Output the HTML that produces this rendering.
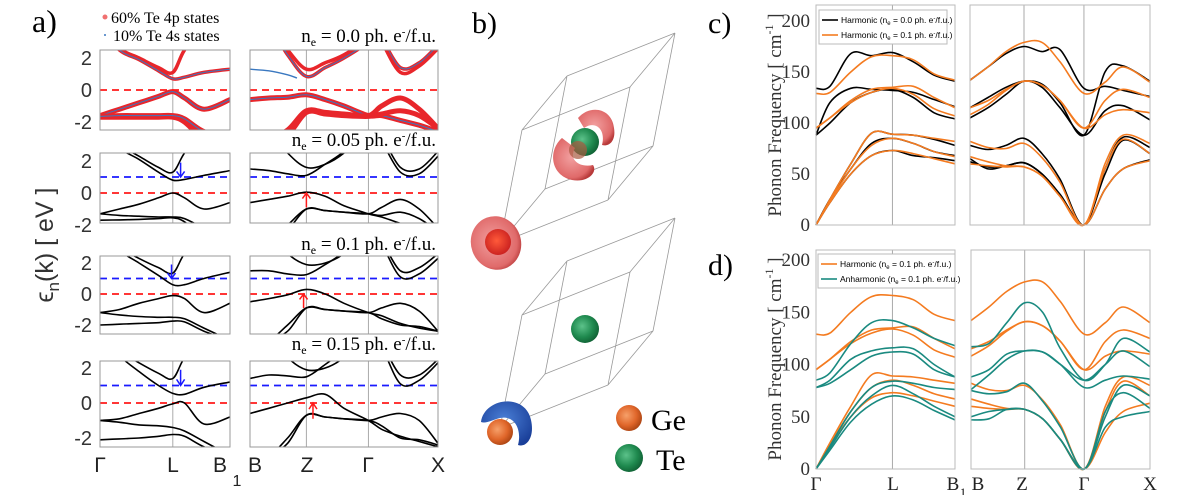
<!DOCTYPE html>
<html><head><meta charset="utf-8"><style>
html,body{margin:0;padding:0;background:#fff;}
svg{display:block;}
.serif{font-family:"Liberation Serif",serif;}
.sans{font-family:"Liberation Sans",sans-serif;}
</style></head><body>
<svg id="fig" width="1196" height="495" viewBox="0 0 1196 495" xmlns="http://www.w3.org/2000/svg">
<defs>
<radialGradient id="gGreen" cx="40%" cy="40%" r="65%"><stop offset="0" stop-color="#5cc28a"/><stop offset="0.6" stop-color="#1f8a4f"/><stop offset="1" stop-color="#0f5f33"/></radialGradient>
<radialGradient id="gOrange" cx="40%" cy="40%" r="65%"><stop offset="0" stop-color="#f6a06a"/><stop offset="0.6" stop-color="#e0662a"/><stop offset="1" stop-color="#a94312"/></radialGradient>
<radialGradient id="gRedOut" cx="45%" cy="45%" r="60%"><stop offset="0" stop-color="#f2a0a0"/><stop offset="0.8" stop-color="#e06a6a"/><stop offset="1" stop-color="#b83a3a"/></radialGradient>
<radialGradient id="gRedIn" cx="45%" cy="45%" r="60%"><stop offset="0" stop-color="#ff5a3a"/><stop offset="1" stop-color="#c81e1e"/></radialGradient>
<radialGradient id="gBlue" cx="45%" cy="40%" r="65%"><stop offset="0" stop-color="#4a7fd6"/><stop offset="1" stop-color="#1a3f99"/></radialGradient>
</defs>
<g id="panelA"></g>
<g id="panelB"></g>
<g id="panelC"></g>
<g id="panelD"></g>
</svg>
<script>
// ---------- Panel a data ----------
const eKLeft = [0,0.15,0.3,0.45,0.56,0.65,0.8,1];
const eKRight = [0,0.1,0.2,0.3,0.4,0.5,0.63,0.7,0.8,0.9,1];
const eTicks = [2,0,-2];
const eLabels = ["n_e = 0.0 ph. e-/f.u.","n_e = 0.05 ph. e-/f.u.","n_e = 0.1 ph. e-/f.u.","n_e = 0.15 ph. e-/f.u."];
const row1Left = [[4,2.6,2.0,1.4,1.1,2.5,4,4],[4,2.5,1.9,1.2,0.7,0.8,1.1,1.3],[-1.6,-1.2,-0.8,-0.4,-0.1,-0.5,-1.2,-0.6],[-1.7,-1.7,-1.7,-1.7,-1.7,-2.0,-3,-3],[-1.65,-1.6,-1.6,-1.6,-1.6,-1.8,-2.6,-3]];
const row1Right = [[4,4,2.5,1.3,1.7,2.2,3.2,4,4,4,4],[4,4,2.2,0.85,1.4,2.0,3.0,4,4,4,4],[4,4,4,4,4,4,4,3.2,1.4,1.7,2.8],[4,4,4,4,4,4,4,3.0,1.1,1.5,2.6],[-0.6,-0.5,-0.45,-0.3,-0.6,-1.0,-1.6,-1.6,-1.9,-2.2,-2.6],[-3,-3,-2.5,-1.3,-1.4,-1.5,-1.6,-1.0,-0.5,-1.2,-2.4],[-3,-3,-2.8,-1.4,-1.5,-1.6,-1.65,-1.5,-1.3,-1.6,-2.4]];
const row1BlueK = [0,0.1,0.2,0.25];
const row1BlueV = [1.3,1.2,0.95,0.75];
const row2Left = [[4,3,2.3,1.6,1.3,2.5,4,4],[4,2.8,2.1,1.3,0.8,0.85,1.1,1.4],[-1.3,-1.0,-0.7,-0.3,0,-0.3,-1.0,-0.6],[-1.7,-1.68,-1.65,-1.6,-1.55,-1.8,-2.8,-3],[-1.3,-1.4,-1.45,-1.5,-1.5,-1.6,-2.2,-3]];
const row2Right = [[1.5,1.4,1.2,1.1,1.8,2.6,4,4,4,4,4],[4,4,2.5,1.6,1.8,2.5,4,4,4,4,4],[4,4,4,4,4,4,4,3.5,1.6,1.5,2.6],[4,4,4,4,4,4,4,3.2,1.3,1.2,2.3],[-0.6,-0.4,-0.2,0.05,-0.2,-0.8,-1.3,-1.5,-1.9,-2.2,-2.5],[-3,-3,-2.0,-1.0,-1.1,-1.2,-1.3,-0.9,-0.4,-1.0,-2.2],[-3,-3,-2.3,-1.0,-1.1,-1.2,-1.3,-1.4,-1.2,-1.6,-2.4]];
const row3Left = [[4,3,2.3,1.7,1.35,2.6,4,4],[4,2.8,2.0,1.2,0.6,0.6,1.0,1.4],[-1.2,-1.0,-0.6,-0.3,-0.1,-0.3,-1.2,-0.6],[-2.0,-1.95,-1.9,-1.85,-1.75,-1.8,-2.4,-3],[-1.2,-1.35,-1.45,-1.5,-1.5,-1.6,-2.2,-3]];
const row3Right = [[1.5,1.5,1.3,1.25,1.9,2.7,4,4,4,4,4],[4,4,2.6,1.9,2.0,2.6,4,4,4,4,4],[4,4,4,4,4,4,4,3.4,1.5,1.7,2.6],[4,4,4,4,4,4,4,3.2,1.1,1.3,2.3],[-0.5,-0.3,-0.05,0.3,0,-0.6,-1.2,-1.4,-1.9,-2.2,-2.4],[-3,-3,-2.0,-0.9,-1.0,-1.1,-1.2,-0.9,-0.6,-1.1,-2.4],[-3,-3,-2.4,-0.9,-1.0,-1.1,-1.2,-1.6,-2.0,-2.1,-2.4]];
const row4Left = [[4,3,2.3,1.7,1.4,2.6,4,4],[4,2.7,1.8,1.0,0.55,0.5,0.9,1.2],[-1.0,-0.9,-0.6,-0.3,-0.05,0.0,-1.2,-0.8],[-2.1,-2.05,-2.0,-1.9,-1.8,-1.9,-2.5,-3],[-1.0,-1.1,-1.25,-1.3,-1.4,-1.6,-2.2,-3]];
const row4Right = [[1.4,1.6,1.55,1.5,2.2,3,4,4,4,4,4],[4,4,2.6,1.9,2.0,2.6,4,4,4,4,4],[4,4,4,4,4,4,4,3.4,1.6,1.6,2.5],[4,4,4,4,4,4,4,3.2,1.1,1.3,2.3],[-0.6,-0.3,0,0.3,0.5,-0.3,-1.0,-1.5,-1.9,-2.2,-2.5],[-3,-3,-2.0,-0.7,-0.8,-0.9,-1.0,-0.8,-0.6,-1.0,-2.3],[-3,-3,-2.3,-0.7,-0.8,-0.9,-1.0,-1.3,-2.0,-2.1,-2.4]];
const fermiLevels = [0,1];
// ---------- Phonon data ----------
const pKLeft = [0,0.1,0.25,0.4,0.55,0.7,0.85,1];
const pKRight = [0,0.1,0.2,0.3,0.4,0.5,0.633,0.75,0.85,1];
const pTicks = [0,50,100,150,200];
const harm0Left = [[134,136,168,166,169,160,147,141],[88,120,134,133,132,130,123,116],[88,100,120,130,133,125,110,104],[0,25,60,90,89,88,84,78],[0,25,55,80,85,80,72,68],[0,22,50,68,73,68,66,63]];
const harm1Left = [[129,130,150,165,166,162,148,142],[95,105,122,133,135,136,125,115],[95,105,120,130,134,128,114,107],[0,25,60,90,89,88,85,82],[0,23,55,78,85,80,72,67],[0,22,50,68,73,70,65,60]];
const harm0Right = [[142,155,168,175,170,172,134,136,132,126],[115,125,135,141,138,120,88,150,156,141],[105,115,128,141,135,115,88,112,117,103],[78,74,78,85,70,45,0,55,86,76],[65,55,58,61,50,30,0,50,83,70],[62,57,58,61,50,30,0,35,55,64]];
const harm1Right = [[142,155,170,179,179,160,129,140,155,140],[108,118,132,141,137,122,95,122,133,125],[115,122,133,141,137,122,95,108,113,110],[82,76,75,80,66,42,0,60,88,80],[67,62,58,57,48,28,0,55,84,70],[60,58,57,57,48,28,0,35,55,63]];
const anhLeft = [[85,92,120,140,142,135,125,118],[78,85,105,113,116,115,100,88],[78,82,95,108,112,110,95,88],[0,22,55,78,84,82,78,76],[0,20,50,70,80,72,60,50],[0,18,45,62,70,66,56,47]];
const anhRight = [[117,120,140,159,150,115,85,100,125,112],[88,95,110,113,112,100,78,85,89,86],[76,90,105,113,112,100,85,100,113,98],[75,72,74,82,65,40,0,55,73,58],[50,55,57,57,48,28,0,50,80,70],[47,48,57,57,48,28,0,40,50,55]];

const NS='http://www.w3.org/2000/svg';
function mk(tag,attrs,parent){const e=document.createElementNS(NS,tag);for(const k in attrs)e.setAttribute(k,attrs[k]);parent.appendChild(e);return e;}
function smooth(p){let d='M'+p[0][0].toFixed(1)+','+p[0][1].toFixed(1);for(let i=0;i<p.length-1;i++){const p0=p[i-1]||p[i],p1=p[i],p2=p[i+1],p3=p[i+2]||p2;const c1=[p1[0]+(p2[0]-p0[0])/6,p1[1]+(p2[1]-p0[1])/6],c2=[p2[0]-(p3[0]-p1[0])/6,p2[1]-(p3[1]-p1[1])/6];d+='C'+c1[0].toFixed(1)+','+c1[1].toFixed(1)+' '+c2[0].toFixed(1)+','+c2[1].toFixed(1)+' '+p2[0].toFixed(1)+','+p2[1].toFixed(1);}return d;}
let clipId=0;
function clipFor(x0,y0,x1,y1){const defs=document.querySelector('defs');const id='c'+(clipId++);const cp=mk('clipPath',{id:id},defs);mk('rect',{x:x0,y:y0,width:x1-x0,height:y1-y0},cp);return 'url(#'+id+')';}
function txt(parent,x,y,s,attrs){const t=mk('text',Object.assign({x:x,y:y},attrs||{}),parent);t.textContent=s;return t;}

// ---------- Panel a ----------
const A=document.getElementById('panelA');
const aLeft=[100,230], aRight=[250,438];
const rows=[{t:50,b:130,z:90,u:16,L:row1Left,R:row1Right},{t:153,b:223,z:193,u:16,L:row2Left,R:row2Right},{t:256,b:334,z:294,u:15.5,L:row3Left,R:row3Right},{t:361,b:447,z:403,u:17.5,L:row4Left,R:row4Right}];
const arrowsBlueK=[0.62,0.55,0.62], arrowsRedK=[0.3,0.285,0.335];
const labelY=[42,146,250,350];
rows.forEach((r,ri)=>{
  const g=mk('g',{},A);
  
  
  const lt=txt(g,436,labelY[ri],'',{'text-anchor':'end','font-size':'19','class':'serif'});
  lt.innerHTML='n<tspan font-size="12" dy="4">e</tspan><tspan dy="-4"> = '+eLabels[ri].split('= ')[1].replace(' e-/',' e</tspan><tspan font-size="11" dy="-7">-</tspan><tspan dy="7">/')+'</tspan>';
  
  
  [[aLeft,r.L,eKLeft,[0.56]],[aRight,r.R,eKRight,[0.3,0.63]]].forEach(([xr,bands,ks,verts],si)=>{
    const sx=k=>xr[0]+k*(xr[1]-xr[0]), sy=v=>r.z-v*r.u;
    const cp=clipFor(xr[0],r.t,xr[1],r.b);
    verts.forEach(k=>{const l=mk('line',{x1:sx(k),x2:sx(k),y1:r.t,y2:r.b,stroke:'#aaa','stroke-width':1},g);});
    const cg=mk('g',{'clip-path':cp},g);
    if(ri>0){fermiLevels.forEach(f=>{const l=mk('line',{x1:xr[0],x2:xr[1],y1:sy(f),y2:sy(f),stroke:f===0?'#ff1a1a':'#1a1aff','stroke-width':1.8,'stroke-dasharray':'7,5'},cg);});}
    bands.forEach((b,bi)=>{
      const d=smooth(b.map((v,i)=>[sx(ks[i]),sy(v)]));
      if(ri===0){
        const p=mk('path',{d:d,fill:'none',stroke:'#e8262b','stroke-width':(bi>=2&&si===0)||(bi>=4)?5:3.5,'stroke-linecap':'round'},cg);
        
        
        if(bi===1||bi===2||bi===4){
        const q=mk('path',{d:d,fill:'none',stroke:'#3a78c0','stroke-width':1},cg);
        
        }
      } else {
        const p=mk('path',{d:d,fill:'none',stroke:'#000','stroke-width':1.6},cg);
        
        
      }
    });
    if(ri===0&&si===1){const d=smooth(row1BlueV.map((v,i)=>[sx(row1BlueK[i]),sy(v)]));const q=mk('path',{d:d,fill:'none',stroke:'#3a78c0','stroke-width':1.4},cg);}
    if(ri===0){const f=mk('line',{x1:xr[0],x2:xr[1],y1:sy(0),y2:sy(0),stroke:'#ff1a1a','stroke-width':1.8,'stroke-dasharray':'7,5'},cg);}
    if(ri>0&&si===0){const x=sx(arrowsBlueK[ri-1]);const a=mk('path',{d:`M${x},${sy(1.9)}L${x},${sy(1)}M${x-4},${sy(1.35)}L${x},${sy(1)}L${x+4},${sy(1.35)}`,stroke:'#1a1aff','stroke-width':1.5,fill:'none'},g);}
    if(ri>0&&si===1){const x=sx(arrowsRedK[ri-1]);const a=mk('path',{d:`M${x},${sy(-0.9)}L${x},${sy(0)}M${x-4},${sy(-0.35)}L${x},${sy(0)}L${x+4},${sy(-0.35)}`,stroke:'#ff1a1a','stroke-width':1.5,fill:'none'},g);}
    const box=mk('rect',{x:xr[0],y:r.t,width:xr[1]-xr[0],height:r.b-r.t,fill:'none',stroke:'#999','stroke-width':1},g);
    
    
    if(si===0){eTicks.forEach(t=>{if(sy(t)<r.t-2||sy(t)>r.b+8)return;const tl=txt(g,92,sy(t)+7,t===-2?'-2':String(t),{'text-anchor':'end','font-size':'20','fill':'#333','class':'sans'});});}
  });
});
const aLabels=[['Γ',100],['L',173],['B',220],['B',255],['Z',307],['Γ',368],['X',438]];
aLabels.forEach(([s,x])=>{const t=txt(A,x,472,s,{'text-anchor':'middle','font-size':'21','fill':'#222','class':'sans'});});
txt(A,237,486,'1',{'font-size':'16','fill':'#222','class':'sans','text-anchor':'middle'});
const ylab=txt(A,0,0,'',{'transform':'translate(53,245) rotate(-90)','text-anchor':'middle','font-size':'25','fill':'#333','class':'sans'});
ylab.innerHTML='ϵ<tspan font-size="17" dy="6">n</tspan><tspan dy="-6">(k) [ eV ]</tspan>';


const aL=txt(A,32,32,'a)',{'font-size':'32','class':'serif'});
mk('circle',{cx:105,cy:17,r:2.5,fill:'#f07070'},A);
txt(A,111,23,'60% Te 4p states',{'font-size':'16','class':'serif'});
mk('circle',{cx:105,cy:35,r:1,fill:'#3a78c0'},A);
txt(A,113,41,'10% Te 4s states',{'font-size':'16','class':'serif'});

// ---------- Panel b ----------
const B=document.getElementById('panelB');
txt(B,472,33,'b)',{'font-size':'30','class':'serif'});
function cell(ox,oy){const a=[22,-113],b=[108,-43],c=[45,-54];const P=(i,j,k)=>[ox+i*a[0]+j*b[0]+k*c[0],oy+i*a[1]+j*b[1]+k*c[1]];let d='';
 const V=[];for(let i=0;i<2;i++)for(let j=0;j<2;j++)for(let k=0;k<2;k++)V.push([i,j,k]);
 V.forEach(v=>{[[1,0,0],[0,1,0],[0,0,1]].forEach(e=>{const w=[v[0]+e[0],v[1]+e[1],v[2]+e[2]];if(w.some(x=>x>1))return;const p=P(...v),q=P(...w);d+=`M${p[0]},${p[1]}L${q[0]},${q[1]}`;});});
 const l=mk('path',{d:d,stroke:'#999','stroke-width':0.8,fill:'none'},B);}
cell(500,243);cell(500,428);
mk('ellipse',{cx:496,cy:243,rx:25,ry:27,fill:'url(#gRedOut)',transform:'rotate(-20 496 243)'},B);
mk('circle',{cx:498,cy:242,r:13,fill:'url(#gRedIn)'},B);
mk('circle',{cx:585,cy:142,r:14,fill:'url(#gGreen)'},B);
mk('path',{d:'M578,118 C590,104 612,108 614,128 C616,140 610,147 602,145 C606,130 596,120 584,128 Z',fill:'url(#gRedOut)'},B);
mk('path',{d:'M562,138 C548,150 550,175 572,180 C588,183 598,172 593,165 C580,168 568,160 575,148 Z',fill:'url(#gRedOut)'},B);
mk('circle',{cx:578,cy:150,r:9,fill:'#a85a40',opacity:0.7},B);
mk('circle',{cx:585,cy:329,r:14,fill:'url(#gGreen)'},B);
mk('path',{d:'M481,422 C484,398 525,392 531,420 C535,438 526,448 518,445 C522,430 515,415 500,418 C492,420 486,424 481,422 Z',fill:'url(#gBlue)'},B);
mk('circle',{cx:500,cy:432,r:13,fill:'url(#gOrange)'},B);
mk('circle',{cx:629,cy:418,r:13,fill:'url(#gOrange)'},B);
txt(B,651,430,'Ge',{'font-size':'30','class':'serif'});
mk('circle',{cx:629,cy:458,r:14,fill:'url(#gGreen)'},B);
txt(B,656,470,'Te',{'font-size':'30','class':'serif'});

// ---------- Panels c, d ----------
function phonon(G,cfg){
  const sy=v=>cfg.z-v*cfg.u;
  const segs=[[cfg.xl,cfg.left,pKLeft,[0.55]],[cfg.xr,cfg.right,pKRight,[0.3,0.633]]];
  segs.forEach(([xr,sets,ks,verts])=>{
    const sx=k=>xr[0]+k*(xr[1]-xr[0]);
    verts.forEach(k=>{const l=mk('line',{x1:sx(k),x2:sx(k),y1:cfg.t,y2:cfg.z,stroke:'#aaa','stroke-width':1},G);});
    sets.forEach(([bands,col,name])=>{bands.forEach(b=>{const p=mk('path',{d:smooth(b.map((v,i)=>[sx(ks[i]),sy(v)])),fill:'none',stroke:col,'stroke-width':1.6},G);});});
    const box=mk('rect',{x:xr[0],y:cfg.t,width:xr[1]-xr[0],height:cfg.z-cfg.t,fill:'none',stroke:'#bbb','stroke-width':1},G);
    
    
  });
  pTicks.forEach(t=>{const tl=txt(G,810,sy(t)+6,String(t),{'text-anchor':'end','font-size':'19','fill':'#333','class':'serif'});});
  const yt=txt(G,0,0,'',{'transform':`translate(781,${cfg.z-110}) rotate(-90)`,'text-anchor':'middle','font-size':'19','fill':'#333','class':'serif'});
  yt.innerHTML='Phonon Frequency [ cm<tspan font-size="12" dy="-8">-1</tspan><tspan dy="8"> ]</tspan>';
  
  
  const lg=mk('g',{},G);
  
  
  mk('rect',{x:cfg.lx,y:cfg.ly,width:cfg.lw,height:34,fill:'#fff',stroke:'#bbb','stroke-width':1},lg);
  cfg.leg.forEach(([col,label],i)=>{const y=cfg.ly+10+i*15;mk('line',{x1:cfg.lx+3,x2:cfg.lx+19,y1:y,y2:y,stroke:col,'stroke-width':1.6},lg);const t=txt(lg,cfg.lx+22,y+3,'',{'font-size':'8.5','class':'sans'});t.innerHTML=label+' (n<tspan font-size="6" dy="2">e</tspan><tspan dy="-2"> = 0.'+(cfg.legN[i])+' ph. e</tspan><tspan font-size="6" dy="-3">-</tspan><tspan dy="3">/f.u.)</tspan>';});
  txt(G,708,cfg.labY,cfg.label,{'font-size':'30','class':'serif'});
}
const BLACK='#000',ORANGE='#f47b20',TEAL='#1a8a80';
phonon(document.getElementById('panelC'),{t:5,z:225,u:1.02,xl:[816,955],xr:[970,1150],
  left:[[harm0Left,BLACK,'harmonic-0.0-band'],[harm1Left,ORANGE,'harmonic-0.1-band']],
  right:[[harm0Right,BLACK,'harmonic-0.0-band'],[harm1Right,ORANGE,'harmonic-0.1-band']],
  lx:819,ly:10,lw:128,leg:[[BLACK,'Harmonic'],[ORANGE,'Harmonic']],legN:['0','1'],label:'c)',labY:33});
phonon(document.getElementById('panelD'),{t:250,z:469,u:1.045,xl:[816,955],xr:[971,1150],
  left:[[harm1Left,ORANGE,'harmonic-0.1-band'],[anhLeft,TEAL,'anharmonic-0.1-band']],
  right:[[harm1Right,ORANGE,'harmonic-0.1-band'],[anhRight,TEAL,'anharmonic-0.1-band']],
  lx:818,ly:254,lw:137,leg:[[ORANGE,'Harmonic'],[TEAL,'Anharmonic']],legN:['1','1'],label:'d)',labY:275});
const D=document.getElementById('panelD');
[['Γ',816],['L',893],['B',953],['B',978],['Z',1022],['Γ',1084],['X',1150]].forEach(([s,x])=>{const t=txt(D,x,490,s,{'text-anchor':'middle','font-size':'19','fill':'#222','class':'serif'});});
txt(D,963,496,'1',{'font-size':'12','class':'serif','text-anchor':'middle'});
</script>
</body></html>
